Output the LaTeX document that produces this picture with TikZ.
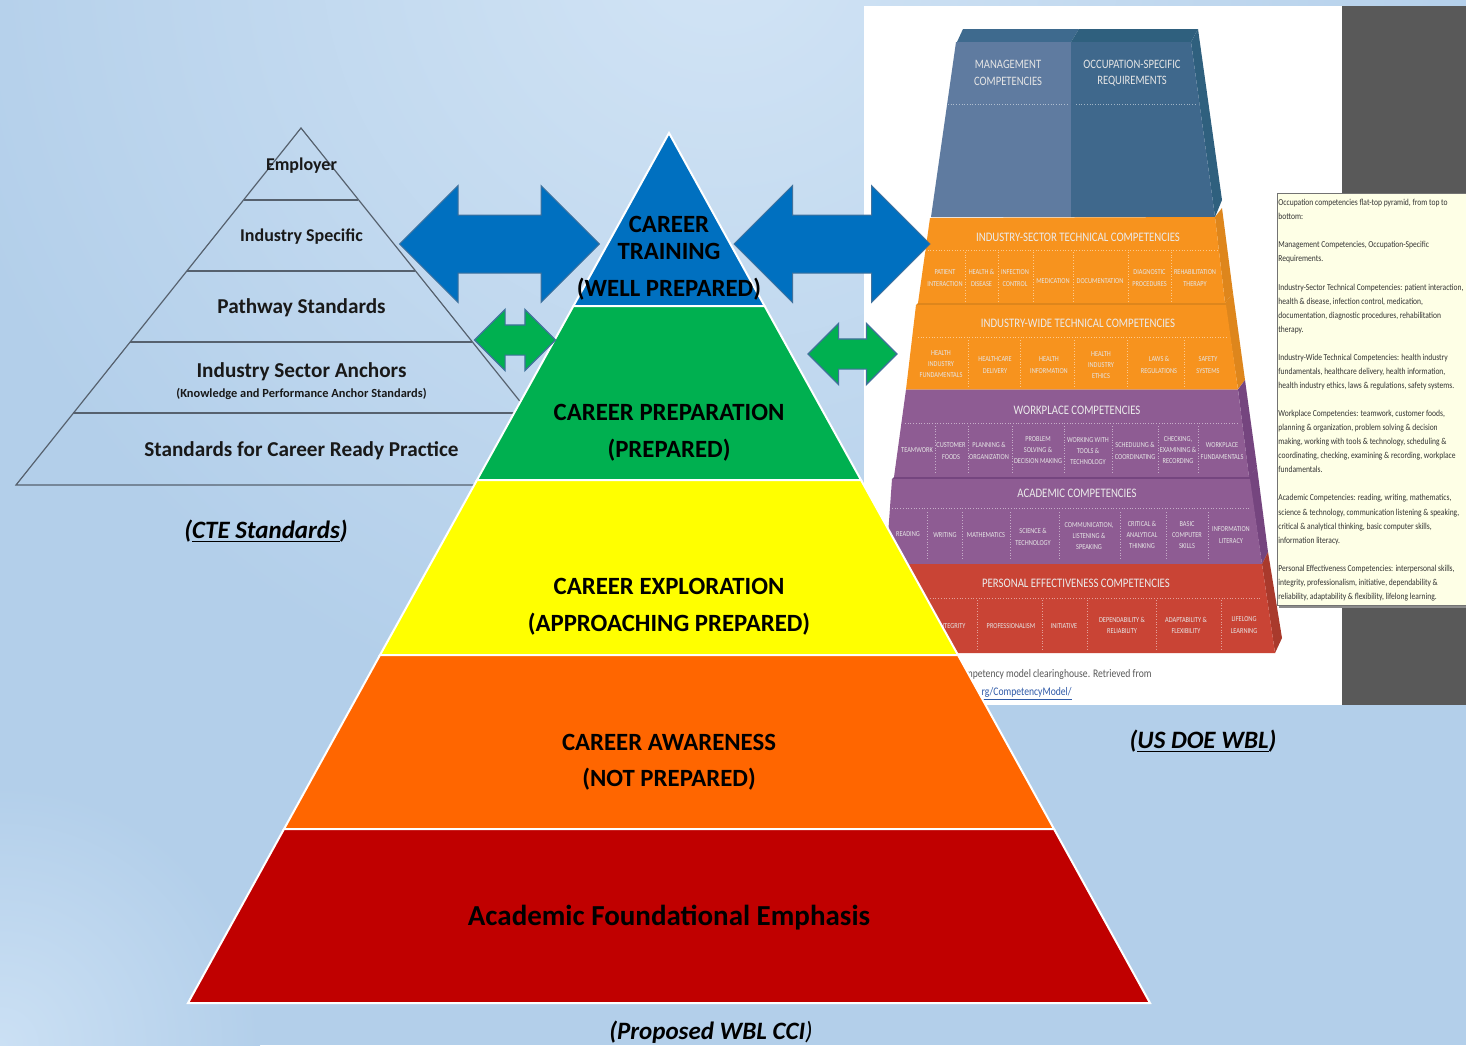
\documentclass[tikz,border=0pt]{standalone}
\usepackage{fontspec}
\setmainfont{Carlito}
\newfontfamily\narrowfont[FakeStretch=0.83]{Carlito}
\usetikzlibrary{shapes.arrows}
\definecolor{bgDark}{HTML}{B3CFEA}
\definecolor{bgLight}{HTML}{D2E4F5}
\definecolor{bgCorner}{HTML}{CBE0F4}
\definecolor{arrowBlue}{HTML}{0070C0}
\definecolor{arrowGreen}{HTML}{00B050}
\definecolor{arrowEdge}{HTML}{41719C}
\definecolor{lineGray}{HTML}{56616E}
\definecolor{mgmtFace}{HTML}{5F7BA0}
\definecolor{occFace}{HTML}{3F688C}
\definecolor{occTop}{HTML}{2F607E}
\definecolor{mgmtTop}{HTML}{3E6A8E}
\definecolor{occSide}{HTML}{2F607E}
\definecolor{orangeFace}{HTML}{F7931E}
\definecolor{orangeSide}{HTML}{DE861C}
\definecolor{purpleFace}{HTML}{8E5C93}
\definecolor{purpleSide}{HTML}{75457F}
\definecolor{redFace}{HTML}{C94435}
\definecolor{redSide}{HTML}{A93A2C}
\definecolor{boxYellow}{HTML}{FEFFE6}
\definecolor{pureYellow}{RGB}{255,255,0}
\definecolor{linkBlue}{HTML}{2F5AA8}
\tikzset{
  layer/.style={draw=white,line width=1pt,line join=miter},
  mainlabel/.style={inner sep=0pt,align=center,font=\fontsize{12.4}{13.75}\selectfont\bfseries},
  ctelabel/.style={inner sep=0pt,align=center,text=black!90,font=\fontsize{10.6}{12}\selectfont\bfseries},
  caption/.style={inner sep=0pt,font=\fontsize{12.5}{14}\selectfont\bfseries\itshape},
  bigarrow/.style={shape=double arrow,inner sep=0pt,fill=arrowBlue,draw=arrowEdge,line width=0.5pt,
    text height=28.5pt,text depth=0pt,minimum width=58pt,double arrow head extend=14.75pt},
  smallarrow/.style={shape=double arrow,inner sep=0pt,fill=arrowGreen,draw=arrowEdge,line width=0.6pt,
    text height=14.5pt,text depth=0pt,minimum width=30pt,double arrow head extend=7.75pt},
  head/.style={inner sep=0pt,align=center,text=white!90!black,font=\narrowfont\fontsize{6.4}{8.2}\selectfont},
  band/.style={inner sep=0pt,align=center,text=white!92!black,font=\narrowfont\fontsize{6.5}{7}\selectfont},
  cell/.style={inner sep=0pt,align=center,text=white!90!black,font=\narrowfont\fontsize{3.8}{5.6}\selectfont},
  divide/.style={white,opacity=0.5,densely dotted,line width=0.35pt}
}
\begin{document}
\begin{tikzpicture}[x=0.5pt,y=-0.5pt]
\useasboundingbox (0,0) rectangle (1466,1045);
\begin{scope}
\clip (0,0) rectangle (1466,1045);
\fill[bgDark] (0,0) rectangle (1466,1045);
\shade[inner color=bgLight,outer color=bgDark] (720,-60) circle (800);
\shade[inner color=bgCorner,outer color=bgDark] (0,1045) circle (260);
\end{scope}

\fill[white] (864,6) rectangle (1342,705);
\fill[black!65] (1342,6) rectangle (1466,705);

\fill[mgmtTop] (963,29) -- (1079,29) -- (1071,42) -- (957,42) -- cycle;
\fill[occTop] (1079,29) -- (1198,29) -- (1191,42) -- (1071,42) -- cycle;
\fill[occSide] (1198,29) -- (1222,200) -- (1215,217) -- (1191,42) -- cycle;
\fill[mgmtFace] (956,42) -- (1071,42) -- (1071,217) -- (931,217) -- cycle;
\fill[occFace] (1071,42) -- (1191,42) -- (1215,217) -- (1071,217) -- cycle;
\draw[divide] (948,104) -- (1068,104);
\draw[divide] (1076,104) -- (1195,104);
\node (tMgmt) at (1008,73)[head] {MANAGEMENT\\COMPETENCIES};
\node (tOcc) at (1132,73)[head] {OCCUPATION-SPECIFIC\\REQUIREMENTS};

\fill[orangeSide] (1215,217) -- (1222,208) -- (1233,293) -- (1225,303) -- cycle;
\fill[orangeFace] (930,218) -- (1215,217) -- (1225,303) -- (918,303) -- cycle;
\draw[divide] (925,250) -- (1218,250);
\foreach \sx in {965,998,1033,1073,1128,1171} \draw[divide] (\sx,252) -- (\sx,301);
\node (tSector) at (1078,237)[band] {INDUSTRY-SECTOR TECHNICAL COMPETENCIES};
\node (tPatient) at (945,278)[cell] {PATIENT\\INTERACTION};
\node (tDisease) at (981.5,278)[cell] {HEALTH \&\\DISEASE};
\node (tInfection) at (1015,278)[cell] {INFECTION\\CONTROL};
\node (tMedication) at (1053,281)[cell] {MEDICATION};
\node (tDocument) at (1100,281)[cell] {DOCUMENTATION};
\node (tDiagnostic) at (1149.5,278)[cell] {DIAGNOSTIC\\PROCEDURES};
\node (tRehab) at (1195,278)[cell] {REHABILITATION\\THERAPY};

\fill[orangeSide] (1225,303) -- (1233,293) -- (1245,380) -- (1238,389) -- cycle;
\fill[orangeSide] (918,303) -- (1225,303) -- (1226,305) -- (916,305) -- cycle;
\fill[orangeFace] (916,305) -- (1226,305) -- (1238,389.5) -- (906,389.5) -- cycle;
\draw[divide] (918,337) -- (1228,337);
\foreach \sx in {968,1020,1074,1127,1184} \draw[divide] (\sx,340) -- (\sx,387);
\node (tWide) at (1078,323)[band] {INDUSTRY-WIDE TECHNICAL COMPETENCIES};
\node (tFund) at (941,364)[cell] {HEALTH\\INDUSTRY\\FUNDAMENTALS};
\node (tCare) at (995,365)[cell] {HEALTHCARE\\DELIVERY};
\node (tInfo) at (1049,365)[cell] {HEALTH\\INFORMATION};
\node (tEthics) at (1101,365)[cell] {HEALTH\\INDUSTRY\\ETHICS};
\node (tLaws) at (1159,365)[cell] {LAWS \&\\REGULATIONS};
\node (tSafety) at (1208,365)[cell] {SAFETY\\SYSTEMS};

\fill[purpleSide] (1238,389.5) -- (1245,380) -- (1257,467) -- (1249,477.5) -- cycle;
\fill[purpleFace] (906,389.5) -- (1238,389.5) -- (1249,477) -- (894,477) -- cycle;
\draw[divide] (905,423) -- (1238,423);
\foreach \sx in {935,968,1012,1064,1112,1158,1198} \draw[divide] (\sx,426) -- (\sx,474);
\node (tPlace) at (1077,410)[band] {WORKPLACE COMPETENCIES};
\node (tTeam) at (917,450)[cell] {TEAMWORK};
\node (tFoods) at (951,451)[cell] {CUSTOMER\\FOODS};
\node (tPlan) at (989,451)[cell] {PLANNING \&\\ORGANIZATION};
\node (tProblem) at (1038,450)[cell] {PROBLEM\\SOLVING \&\\DECISION MAKING};
\node (tTools) at (1088,451)[cell] {WORKING WITH\\TOOLS \&\\TECHNOLOGY};
\node (tSched) at (1135,451)[cell] {SCHEDULING \&\\COORDINATING};
\node (tCheck) at (1178,450)[cell] {CHECKING,\\EXAMINING \&\\RECORDING};
\node (tFundam) at (1222,451)[cell] {WORKPLACE\\FUNDAMENTALS};

\fill[purpleSide] (1249,477) -- (1257,467) -- (1268,552) -- (1262,564) -- cycle;
\fill[purpleSide] (894,477) -- (1249,477) -- (1250,479) -- (892,479) -- cycle;
\fill[purpleFace] (892,479) -- (1250,479) -- (1262,564) -- (886,564) -- cycle;
\draw[divide] (892,508) -- (1250,508);
\foreach \sx in {927,962,1010,1059,1120,1166,1208} \draw[divide] (\sx,512) -- (\sx,560);
\node (tAcademic) at (1077,493)[band] {ACADEMIC COMPETENCIES};
\node (tRead) at (908,534)[cell] {READING};
\node (tWrite) at (945,535)[cell] {WRITING};
\node (tMath) at (986,535)[cell] {MATHEMATICS};
\node (tScience) at (1033,537)[cell] {SCIENCE \&\\TECHNOLOGY};
\node (tComm) at (1089,536)[cell] {COMMUNICATION,\\LISTENING \&\\SPEAKING};
\node (tCritical) at (1142,535)[cell] {CRITICAL \&\\ANALYTICAL\\THINKING};
\node (tBasic) at (1187,535)[cell] {BASIC\\COMPUTER\\SKILLS};
\node (tLiteracy) at (1231,535)[cell] {INFORMATION\\LITERACY};

\fill[redSide] (1262,564) -- (1268,552) -- (1282,638) -- (1275,653) -- cycle;
\fill[redFace] (880,564) -- (1262,564) -- (1275,653) -- (880,653) -- cycle;
\draw[divide] (930,598) -- (1262,598);
\foreach \sx in {977,1042,1087,1156,1221} \draw[divide] (\sx,600) -- (\sx,650);
\node (tPersonal) at (1076,583)[band] {PERSONAL EFFECTIVENESS COMPETENCIES};
\node (tIntegrity) at (952,626)[cell] {INTEGRITY};
\node (tProf) at (1011,626)[cell] {PROFESSIONALISM};
\node (tInit) at (1064,626)[cell] {INITIATIVE};
\node (tDepend) at (1122,625.5)[cell] {DEPENDABILITY \&\\RELIABILITY};
\node (tAdapt) at (1186,625.5)[cell] {ADAPTABILITY \&\\FLEXIBILITY};
\node (tLife) at (1244,625)[cell] {LIFELONG\\LEARNING};

\node (tCite) at (1152,674)[anchor=east,inner sep=0pt,text=black!65,font=\narrowfont\fontsize{5.8}{7}\selectfont] {mpetency model clearinghouse. Retrieved from};
\node (tLink) at (1072,694)[anchor=east,inner sep=0pt,text=linkBlue,font=\narrowfont\fontsize{5.8}{7}\selectfont] {\underline{rg/CompetencyModel/}};

\fill[black!45] (1279,196) rectangle (1466,608);
\filldraw[fill=boxYellow,draw=black!55,line width=0.4pt] (1277,193) rectangle (1467,605);
\node (tNotes) at (1278,199)[anchor=north west,inner sep=0pt,align=left,text=black!80,font=\narrowfont\fontsize{4.55}{7.03}\selectfont] {Occupation competencies flat-top pyramid, from top to\\bottom:\\[7.03pt]
Management Competencies, Occupation-Specific\\Requirements.\\[7.03pt]
Industry-Sector Technical Competencies: patient interaction,\\health \& disease, infection control, medication,\\documentation, diagnostic procedures, rehabilitation\\therapy.\\[7.03pt]
Industry-Wide Technical Competencies: health industry\\fundamentals, healthcare delivery, health information,\\health industry ethics, laws \& regulations, safety systems.\\[7.03pt]
Workplace Competencies: teamwork, customer foods,\\planning \& organization, problem solving \& decision\\making, working with tools \& technology, scheduling \&\\coordinating, checking, examining \& recording, workplace\\fundamentals.\\[7.03pt]
Academic Competencies: reading, writing, mathematics,\\science \& technology, communication listening \& speaking,\\critical \& analytical thinking, basic computer skills,\\information literacy.\\[7.03pt]
Personal Effectiveness Competencies: interpersonal skills,\\integrity, professionalism, initiative, dependability \&\\reliability, adaptability \& flexibility, lifelong learning.};

\draw[lineGray,line width=0.6pt] (301,128) -- (16,485) -- (587,485) -- cycle;
\draw[lineGray,line width=0.9pt] (244,200) -- (358,200);
\draw[lineGray,line width=0.7pt] (187,271) -- (415,271);
\draw[lineGray,line width=0.7pt] (130,342) -- (472,342);
\draw[lineGray,line width=0.9pt] (73,413) -- (529,413);
\node (cEmployer) at (301.5,165.5)[ctelabel,font=\fontsize{9}{11}\selectfont\bfseries] {Employer};
\node (cIndustry) at (301.5,236.5)[ctelabel,font=\fontsize{9}{11}\selectfont\bfseries] {Industry Specific};
\node (cPathway) at (301.5,308)[ctelabel] {Pathway Standards};
\node (cSector) at (301.5,372)[ctelabel] {Industry Sector Anchors};
\node (cKnow) at (301.5,394)[ctelabel,font=\fontsize{6.2}{8}\selectfont\bfseries] {(Knowledge and Performance Anchor Standards)};
\node (cPractice) at (301.5,450.5)[ctelabel] {Standards for Career Ready Practice};
\node (cCap) at (266,531.5)[caption] {(\underline{CTE Standards})};

\filldraw[layer,fill=arrowBlue] (669,133) -- (764.6,306) -- (573.4,306) -- cycle;
\filldraw[layer,fill=arrowGreen] (573.4,306) -- (764.6,306) -- (861,480) -- (477,480) -- cycle;
\filldraw[layer,fill=pureYellow] (477,480) -- (861,480) -- (958,655) -- (380,655) -- cycle;
\filldraw[layer,fill={rgb,255:red,255;green,102;blue,0}] (380,655) -- (958,655) -- (1054,829) -- (284,829) -- cycle;
\filldraw[layer,fill={rgb,255:red,192;green,0;blue,0}] (284,829) -- (1054,829) -- (1150,1003) -- (188,1003) -- cycle;

\node (mTrain) at (669,238)[mainlabel] {CAREER\\TRAINING};
\node (mWell) at (669,289.5)[mainlabel] {(WELL PREPARED)};
\node (mPrep) at (669,412)[mainlabel] {CAREER PREPARATION};
\node (mPrepB) at (669,450.5)[mainlabel] {(PREPARED)};
\node (mExpl) at (669,586)[mainlabel] {CAREER EXPLORATION};
\node (mExplB) at (669,624.5)[mainlabel] {(APPROACHING PREPARED)};
\node (mAware) at (669,742)[mainlabel] {CAREER AWARENESS};
\node (mAwareB) at (669,779.5)[mainlabel] {(NOT PREPARED)};
\node (mFound) at (669,917.5)[mainlabel,font=\fontsize{14.5}{16}\selectfont\bfseries] {Academic Foundational Emphasis};

\node (aBlueL) at (499.5,244)[bigarrow,minimum height=100pt] {};
\node (aBlueR) at (832,244)[bigarrow,minimum height=98pt] {};
\node (aGreenL) at (515,340)[smallarrow,minimum height=40.5pt] {};
\node (aGreenR) at (852.5,354)[smallarrow,minimum height=44.5pt] {};

\node (cUs) at (1203,741.5)[caption] {(\underline{US DOE WBL})};
\node (cWbl) at (711,1034.5)[caption] {(\underline{Proposed WBL CCI}\textmd{)}};
\end{tikzpicture}
\end{document}
